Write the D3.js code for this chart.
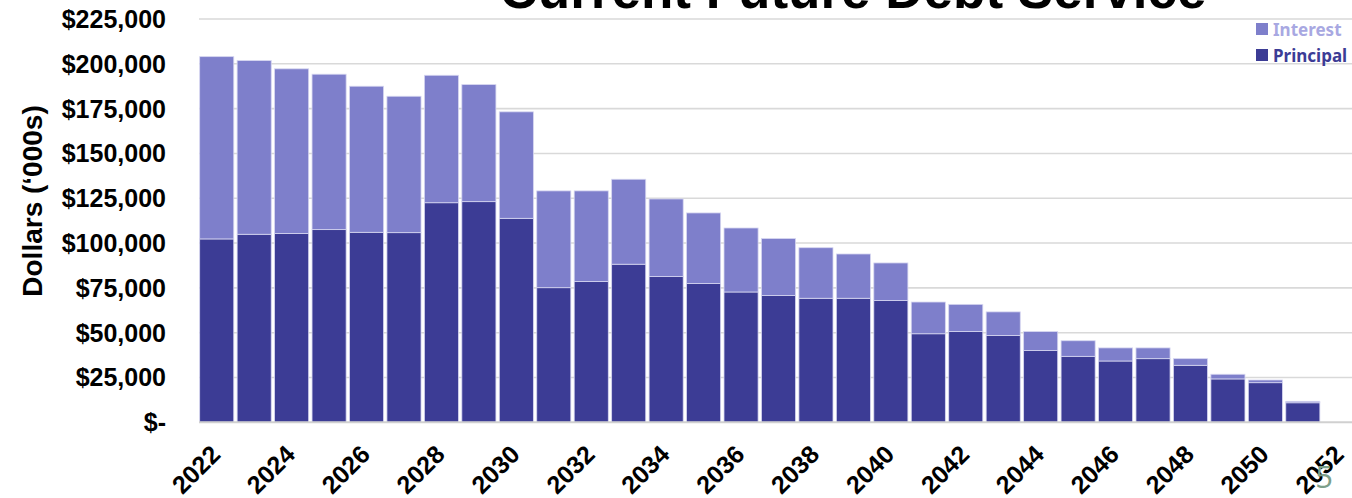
<!DOCTYPE html>
<html>
<head>
<meta charset="utf-8">
<script src="https://cdn.jsdelivr.net/npm/d3@7"></script>
<style>
  html, body { margin: 0; padding: 0; background: #fff; overflow: hidden; }
  svg { display: block; }
</style>
</head>
<body>
<div id="chart"></div>
<script>
// ── Data ($'000s) ───────────────────────────────────────────────
const years = [2022, 2023, 2024, 2025, 2026, 2027, 2028, 2029, 2030, 2031,
               2032, 2033, 2034, 2035, 2036, 2037, 2038, 2039, 2040, 2041,
               2042, 2043, 2044, 2045, 2046, 2047, 2048, 2049, 2050, 2051];
const principal = [102300, 104900, 105300, 107500, 106000, 105800, 122500, 123100, 113800, 75100,
                   78500, 88200, 81300, 77400, 72700, 70700, 69200, 69200, 67900, 49400,
                   50600, 48400, 40000, 36800, 34200, 35500, 31800, 24200, 22100, 10900];
const interest = [101700, 96900, 91900, 86700, 81500, 76100, 71100, 65300, 59400, 54000,
                  50600, 47400, 43300, 39400, 35700, 31800, 28200, 24700, 21000, 17700,
                  15200, 13200, 10600, 8700, 7300, 6000, 3700, 2600, 1500, 800];
// x axis runs one slot past the last payment year
const axisYears = [...years, 2052];
const yTicks = [0, 25000, 50000, 75000, 100000, 125000, 150000, 175000, 200000, 225000];
const seriesNames = ["Interest", "Principal"];

const W = 1352, H = 498;
const COL_INT = "#7e7fcb", COL_PRIN = "#3c3c95";

const svg = d3.select("#chart").append("svg")
    .attr("width", W).attr("height", H);

// ── Scales ──────────────────────────────────────────────────────
const x = d3.scaleBand()
    .domain(axisYears)
    .range([198, 1359])
    .paddingInner(0.09)
    .paddingOuter(0.045);

const y = d3.scaleLinear()
    .domain([0, 225000])
    .range([422.3, 19]);

// ── Gridlines ───────────────────────────────────────────────────
svg.append("g")
    .selectAll("line")
    .data(yTicks.filter(t => t > 0))
    .join("line")
    .attr("x1", 199).attr("x2", W + 20)
    .attr("y1", d => y(d)).attr("y2", d => y(d))
    .style("stroke", "#d9d9d9")
    .style("stroke-width", 1.6);

// ── Stacked bars ────────────────────────────────────────────────
const rows = years.map((yr, i) => ({ year: yr, Principal: principal[i], Interest: interest[i] }));
const stack = d3.stack().keys(["Principal", "Interest"])(rows);
const colors = { Principal: COL_PRIN, Interest: COL_INT };

svg.append("g")
    .selectAll("g")
    .data(stack)
    .join("g")
    .style("fill", d => colors[d.key])
    .selectAll("rect")
    .data(d => d)
    .join("rect")
    .attr("x", d => x(d.data.year))
    .attr("width", x.bandwidth())
    .attr("y", d => y(d[1]))
    .attr("height", d => y(d[0]) - y(d[1]))
    .style("stroke", "#d6d6f0")
    .style("stroke-width", 0.8);

// zero baseline
svg.append("line")
    .attr("x1", 199).attr("x2", W + 20)
    .attr("y1", y(0)).attr("y2", y(0))
    .style("stroke", "#d0d0d0")
    .style("stroke-width", 2);

// ── Y axis labels ───────────────────────────────────────────────
const fmt = d => d === 0 ? "$-" : "$" + d3.format(",")(d);
svg.append("g")
    .selectAll("text")
    .data(yTicks)
    .join("text")
    .attr("x", 166)
    .attr("y", d => y(d))
    .attr("dy", "0.36em")
    .style("text-anchor", "end")
    .style("font-family", "'Liberation Sans', Arial, sans-serif")
    .style("font-weight", "bold")
    .style("font-size", "25px")
    .style("fill", "#000")
    .text(fmt);

svg.append("text")
    .attr("transform", "translate(42,201) rotate(-90)")
    .style("text-anchor", "middle")
    .style("font-family", "'Liberation Sans', Arial, sans-serif")
    .style("font-weight", "bold")
    .style("font-size", "28px")
    .style("fill", "#000")
    .text("Dollars (\u2018000s)");

// ── X axis labels (every other year) ────────────────────────────
svg.append("g")
    .selectAll("text")
    .data(axisYears.filter(d => (d - 2022) % 2 === 0))
    .join("text")
    .attr("transform", d => `translate(${x(d) + x.bandwidth() / 2 + 5},456) rotate(-45)`)
    .style("text-anchor", "end")
    .style("font-family", "'Liberation Sans', Arial, sans-serif")
    .style("font-weight", "bold")
    .style("font-size", "25px")
    .style("fill", "#000")
    .text(d => d);

// ── Title (clipped at the top edge) ─────────────────────────────
svg.append("text")
    .attr("x", 853).attr("y", 7.5)
    .style("text-anchor", "middle")
    .style("font-family", "'Liberation Sans', Arial, sans-serif")
    .style("font-weight", "bold")
    .style("font-size", "53px")
    .style("fill", "#000")
    .text("Current Future Debt Service");

// ── Legend ──────────────────────────────────────────────────────
const legendText = { Interest: "#a8a8e2", Principal: "#3c3c96" };
const leg = svg.append("g")
    .selectAll("g")
    .data(seriesNames)
    .join("g")
    .attr("transform", (d, i) => `translate(1256,${23 + i * 26})`);
leg.append("rect")
    .attr("width", 12).attr("height", 12)
    .style("fill", d => colors[d]);
leg.append("text")
    .attr("x", 17).attr("y", 12.5)
    .style("font-family", "'Noto Sans', 'Open Sans', sans-serif")
    .style("font-weight", "bold")
    .style("font-size", "17px")
    .style("fill", d => legendText[d])
    .text(d => d);

// ── Slide page number (drawn over the last axis label) ──────────
svg.append("text")
    .attr("x", 1324).attr("y", 488)
    .style("text-anchor", "middle")
    .style("font-family", "'Open Sans', sans-serif")
    .style("font-weight", 400)
    .style("font-size", "31px")
    .style("fill", "#7d9f8a")
    .text("5");
</script>
</body>
</html>
